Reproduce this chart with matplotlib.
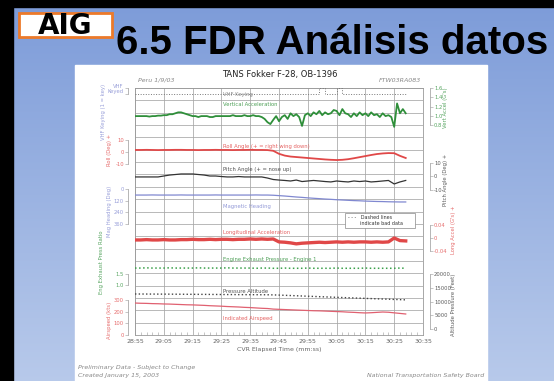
import numpy as np
import matplotlib
matplotlib.use('Agg')
import matplotlib.pyplot as plt
from matplotlib.patches import Rectangle

W, H = 554, 381

# CVR elapsed time axis (seconds after 28:55)
time_ticks = [0, 10, 20, 30, 40, 50, 60, 70, 80, 90, 100]
time_labels = ['28:55', '29:05', '29:15', '29:25', '29:35', '29:45',
               '29:55', '30:05', '30:15', '30:25', '30:35']

# 1-second samples
vert_accel = [1.00, 1.00, 1.00, 1.00, 1.00, 0.99, 1.00, 1.00, 1.01, 1.01,
              1.02, 1.02, 1.04, 1.04, 1.06, 1.08, 1.08, 1.06, 1.04, 1.02,
              1.00, 1.00, 0.98, 1.00, 1.00, 1.00, 0.98, 0.98, 1.00, 1.00,
              1.00, 1.00, 1.00, 1.00, 1.02, 1.00, 1.00, 1.00, 1.02, 1.00,
              1.00, 1.02, 1.00, 1.00,
              0.98, 0.94, 0.87, 0.83, 0.92, 1.00, 0.89, 0.98, 1.02, 0.94,
              1.06, 1.00, 1.04, 0.98, 0.79, 1.02, 1.06, 1.00, 1.08, 1.04,
              1.11, 1.02, 1.08, 1.04, 1.06, 1.13, 1.11, 1.02, 1.15, 1.06,
              1.04, 0.98, 1.06, 1.00, 1.08, 1.02, 1.06, 1.00, 1.08, 1.02,
              1.04, 0.98, 1.06, 1.00, 1.02, 0.98, 0.77, 1.27, 1.06, 1.15, 1.06]

# 2-second samples
roll = [1.7, 1.7, 1.8, 1.7, 1.6, 1.7, 1.7, 1.8, 1.8, 1.7, 1.7, 1.6,
        1.7, 1.7, 1.8, 1.7, 1.7, 1.6, 1.7, 1.7, 1.8, 1.7, 1.7, 1.6,
        1.0, -1.5, -3.0, -3.8, -4.2, -4.6, -5.0, -5.4, -5.8, -6.2, -6.5, -6.7,
        -6.5, -6.0, -5.2, -4.3, -3.4, -2.5, -1.7, -1.2, -0.9, -1.0, -3.2, -5.0]
pitch = [-0.7, -0.7, -0.7, -0.7, -0.7,
         0.0, 0.7, 1.1, 1.5, 1.5, 1.5, 1.1, 0.7,
         0.0, 0.0, -0.4, -0.7, -0.7, -0.4, -0.7, -0.7, -0.7, -0.7,
         -1.5, -2.6, -3.0,
         -3.3, -3.7, -3.0, -4.1, -3.7, -3.3, -3.7, -4.1, -4.4, -3.7, -4.1,
         -4.4, -3.7, -4.1, -3.7, -4.4, -4.1, -3.7, -3.3, -5.9, -4.4, -3.3]
heading = [62, 62, 62, 61, 62, 62, 62, 62, 61, 62, 62, 62,
           62, 62, 61, 62, 62, 62, 62, 62, 62, 61, 62, 62,
           64, 68, 72, 77, 82, 86, 91, 95, 99, 103, 106, 110,
           113, 116, 119, 121, 124, 126, 128, 129, 131, 132, 133, 133]
long_accel = [-0.006, -0.006, -0.005, -0.006, -0.006, -0.005, -0.006, -0.006,
              -0.005, -0.005, -0.004, -0.005, -0.005, -0.004, -0.005, -0.004,
              -0.004, -0.005, -0.004, -0.004, -0.003, -0.004, -0.003, -0.004,
              -0.003,
              -0.012, -0.013, -0.015, -0.018, -0.016, -0.015, -0.014, -0.013,
              -0.014, -0.013, -0.012, -0.013, -0.012, -0.013, -0.012, -0.012,
              -0.013, -0.012, -0.013, -0.012, 0.000, -0.008, -0.009]
epr = [1.77, 1.77, 1.78, 1.77, 1.77, 1.77, 1.78, 1.77, 1.77, 1.77, 1.77, 1.78,
       1.77, 1.77, 1.77, 1.77, 1.78, 1.77, 1.77, 1.77, 1.77, 1.76, 1.77, 1.77,
       1.76, 1.76, 1.77, 1.76, 1.76, 1.76, 1.77, 1.76, 1.76, 1.76, 1.76, 1.77,
       1.76, 1.76, 1.76, 1.76, 1.77, 1.76, 1.76, 1.76, 1.76, 1.76, 1.77, 1.76]
altitude = [12730, 12720, 12710, 12700, 12690, 12680, 12670, 12650,
            12640, 12620, 12610, 12600, 12590, 12570, 12560, 12540,
            12530, 12520, 12500, 12490, 12480, 12470, 12460, 12450,
            12400, 12330, 12250, 12170, 12090, 12000, 11920, 11840,
            11760, 11680, 11600, 11520, 11440, 11360, 11290, 11210,
            11130, 11060, 10980, 10900, 10830, 10750, 10680, 10600]
airspeed = [274, 272, 271, 269, 268, 266, 265, 263, 261, 259, 258, 256,
            254, 251, 249, 247, 244, 242, 240, 237, 235, 232, 229, 227,
            222, 220, 218, 216, 214, 212, 210, 208, 207, 205, 203, 201,
            199, 196, 194, 191, 189, 191, 194, 197, 195, 190, 185, 180]
vhf_keying = [0] * 32 + [1] + [0] * 2 + [1] + [0] * 12

GRN = '#2f8f3a'
RED = '#e04848'
BLU = '#8088d0'
BLK = '#333333'
TXT = '#666666'

fig = plt.figure(figsize=(W / 100, H / 100), dpi=100)

# slide background in pixel coords
bg = fig.add_axes([0, 0, 1, 1])
bg.set_xlim(0, W)
bg.set_ylim(H, 0)
bg.axis('off')
top = np.array([0.49, 0.61, 0.85])
bot = np.array([0.72, 0.79, 0.92])
f = np.linspace(0, 1, 200)[:, None, None]
grad = top + (bot - top) * f
grad = np.repeat(grad, 2, axis=1)
bg.imshow(grad, extent=(0, W, H, 0), aspect='auto', zorder=0)
bg.add_patch(Rectangle((0, 0), W, 7, color='black', zorder=1))
bg.add_patch(Rectangle((0, 0), 13, H, color='black', zorder=1))
bg.add_patch(Rectangle((75, 65), 412, 320, color='white', zorder=1))
# logo
bg.add_patch(Rectangle((19, 13), 93, 24, facecolor='white', edgecolor='#ec7a2a', lw=2, zorder=2))
bg.text(65, 26, 'AIG', fontsize=20, fontweight='heavy', family='DejaVu Sans',
        ha='center', va='center', color='black', zorder=3)
bg.text(116, 43, '6.5 FDR Análisis datos', fontsize=29, fontweight='bold',
        family='Liberation Sans', ha='left', va='center', color='black', zorder=3)

# main strip chart
L, R, T, B = 135, 423, 88, 335
rect = [L / W, 1 - B / H, (R - L) / W, (B - T) / H]
ax = fig.add_axes(rect)
ax.set_xlim(0, 100)
ax.set_ylim(0, 20)
ax.set_facecolor('none')
ax.set_xticks(time_ticks)
ax.set_xticklabels(time_labels, fontsize=4.5, color=TXT)
ax.set_xticks(np.arange(0, 101, 2), minor=True)
ax.set_yticks(range(21))
ax.tick_params(axis='y', length=0, labelleft=False)
ax.tick_params(axis='x', which='major', length=0, pad=3)
ax.tick_params(axis='x', which='minor', length=2, width=0.4, direction='in', color='#999')
ax.grid(True, color='#a6a6a6', lw=0.55)
for s in ax.spines.values():
    s.set_color('#999')
    s.set_linewidth(0.6)
ax.set_xlabel('CVR Elapsed Time (mm:ss)', fontsize=4.5, color=TXT, labelpad=2)


def overlay(v1, p1, v2, p2, name):
    o = fig.add_axes(rect, label=name)
    o.set_xlim(0, 100)
    f1 = (B - p1) / (B - T)
    f2 = (B - p2) / (B - T)
    b = (v1 - v2) / (f1 - f2)
    a = v1 - b * f1
    o.set_ylim(a, a + b)
    o.patch.set_visible(False)
    for s in o.spines.values():
        s.set_visible(False)
    o.set_xticks([])
    o.set_yticks([])
    return o


def scale(o, side, ticks, labels, color):
    sp = o.spines[side]
    sp.set_visible(True)
    sp.set_bounds(min(ticks), max(ticks))
    sp.set_position(('outward', 5))
    sp.set_color('#999')
    sp.set_linewidth(0.5)
    o.yaxis.set_ticks_position(side)
    o.set_yticks(ticks)
    o.set_yticklabels(labels, fontsize=3.8, color=color, alpha=0.8)
    o.tick_params(axis='y', length=2, width=0.4, pad=1, color='#999')


t1 = np.arange(len(vert_accel))
t2 = np.arange(0, 96, 2)

o = overlay(0, 90, 1, 84, 'vhf')
o.step(t2, vhf_keying, where='post', color='#777', lw=0.7, ls=':')
scale(o, 'left', [0, 1], ['', 'VHF\nKeyed'], BLU)

o = overlay(1.0, 113, 1.2, 103.5, 'vacc')
o.plot(t1, vert_accel, color=GRN, lw=1.3)
scale(o, 'right', [0.8, 1.0, 1.2, 1.4, 1.6], ['0.8', '1.0', '1.2', '1.4', '1.6'], GRN)

o = overlay(0, 152, 10, 140, 'roll')
o.plot(t2, roll, color=RED, lw=1.3)
scale(o, 'left', [-10, 0, 10], ['-10', '0', '10'], RED)

o = overlay(0, 176, 10, 162.5, 'pitch')
o.plot(t2, pitch, color=BLK, lw=0.9)
scale(o, 'right', [-10, 0, 10], ['-10', '0', '10'], BLK)

o = overlay(0, 189, 120, 200.7, 'hdg')
o.plot(t2, heading, color=BLU, lw=0.9)
scale(o, 'left', [0, 120, 240, 360], ['0', '120', '240', '360'], BLU)

o = overlay(0, 238, 0.04, 225, 'lacc')
o.plot(t2, long_accel, color=RED, lw=2.4)
scale(o, 'right', [-0.04, 0, 0.04], ['-0.04', '0', '0.04'], RED)

o = overlay(1.0, 285, 1.5, 274, 'epr')
o.plot(t2, epr, color='#3aa04a', lw=1.1, ls=':')
scale(o, 'left', [1.0, 1.5], ['1.0', '1.5'], GRN)

o = overlay(0, 329, 20000, 274, 'alt')
o.plot(t2, altitude, color='#444', lw=1.0, ls=':')
scale(o, 'right', [0, 5000, 10000, 15000, 20000], ['0', '5000', '10000', '15000', '20000'], BLK)

o = overlay(0, 335, 300, 300, 'ias')
o.plot(t2, airspeed, color='#e06070', lw=0.9)
scale(o, 'left', [0, 100, 200, 300], ['0', '100', '200', '300'], RED)

# trace names inside chart (rows from bottom)
trace_names = [(19.5, 'VHF Keying', '#777'),
               (18.7, 'Vertical Acceleration', GRN),
               (15.3, 'Roll Angle (+ = right wing down)', RED),
               (13.4, 'Pitch Angle (+ = nose up)', BLK),
               (10.4, 'Magnetic Heading', BLU),
               (8.3, 'Longitudinal Acceleration', RED),
               (6.1, 'Engine Exhaust Pressure - Engine 1', GRN),
               (3.5, 'Pressure Altitude', BLK),
               (1.3, 'Indicated Airspeed', RED)]
for row, name, c in trace_names:
    ax.text(30.5, row, name, fontsize=3.8, color=c, va='center', ha='left', alpha=0.85)

ax.add_patch(Rectangle((73, 8.66), 24.3, 1.22, facecolor='white', edgecolor='#888', lw=0.5, zorder=5))
ax.text(74, 9.55, '- - -   Dashed lines', fontsize=3.5, color=BLK, va='center', zorder=6)
ax.text(78, 9.0, 'indicate bad data', fontsize=3.5, color=BLK, va='center', zorder=6)

# side axis titles
side_titles = [(103, 112, 'VHF Keying (1 = key)', BLU),
               (110, 150, 'Roll (Deg) +', RED),
               (110, 211, 'Mag Heading (Deg)', BLU),
               (102, 262, 'Eng Exhaust Press Ratio', GRN),
               (110, 320, 'Airspeed (kts)', RED),
               (446, 108, 'Vert Accel (G\'s)', GRN),
               (446, 180, 'Pitch Angle (Deg) +', BLK),
               (453, 230, 'Long Accel (G\'s) +', RED),
               (453, 305, 'Altitude Pressure (Feet)', BLK)]
for x, y, s, c in side_titles:
    fig.text(x / W, 1 - y / H, s, rotation=90, fontsize=3.8, color=c,
             ha='center', va='center', alpha=0.8)

fig.text(280 / W, 1 - 75 / H, 'TANS Fokker F-28, OB-1396', fontsize=6, color='#222',
         ha='center', va='center')
fig.text(138 / W, 1 - 80 / H, 'Peru 1/9/03', fontsize=4.5, color='#888',
         style='italic', ha='left', va='center')
fig.text(421 / W, 1 - 80 / H, 'FTW03RA083', fontsize=4.5, color='#888',
         style='italic', ha='right', va='center')
fig.text(78 / W, 1 - 367 / H, 'Preliminary Data - Subject to Change', fontsize=4.5,
         color='#888', style='italic', ha='left', va='center')
fig.text(78 / W, 1 - 376 / H, 'Created January 15, 2003', fontsize=4.5,
         color='#888', style='italic', ha='left', va='center')
fig.text(484 / W, 1 - 376 / H, 'National Transportation Safety Board', fontsize=4.5,
         color='#888', style='italic', ha='right', va='center')

fig.savefig('out.png', dpi=100)
